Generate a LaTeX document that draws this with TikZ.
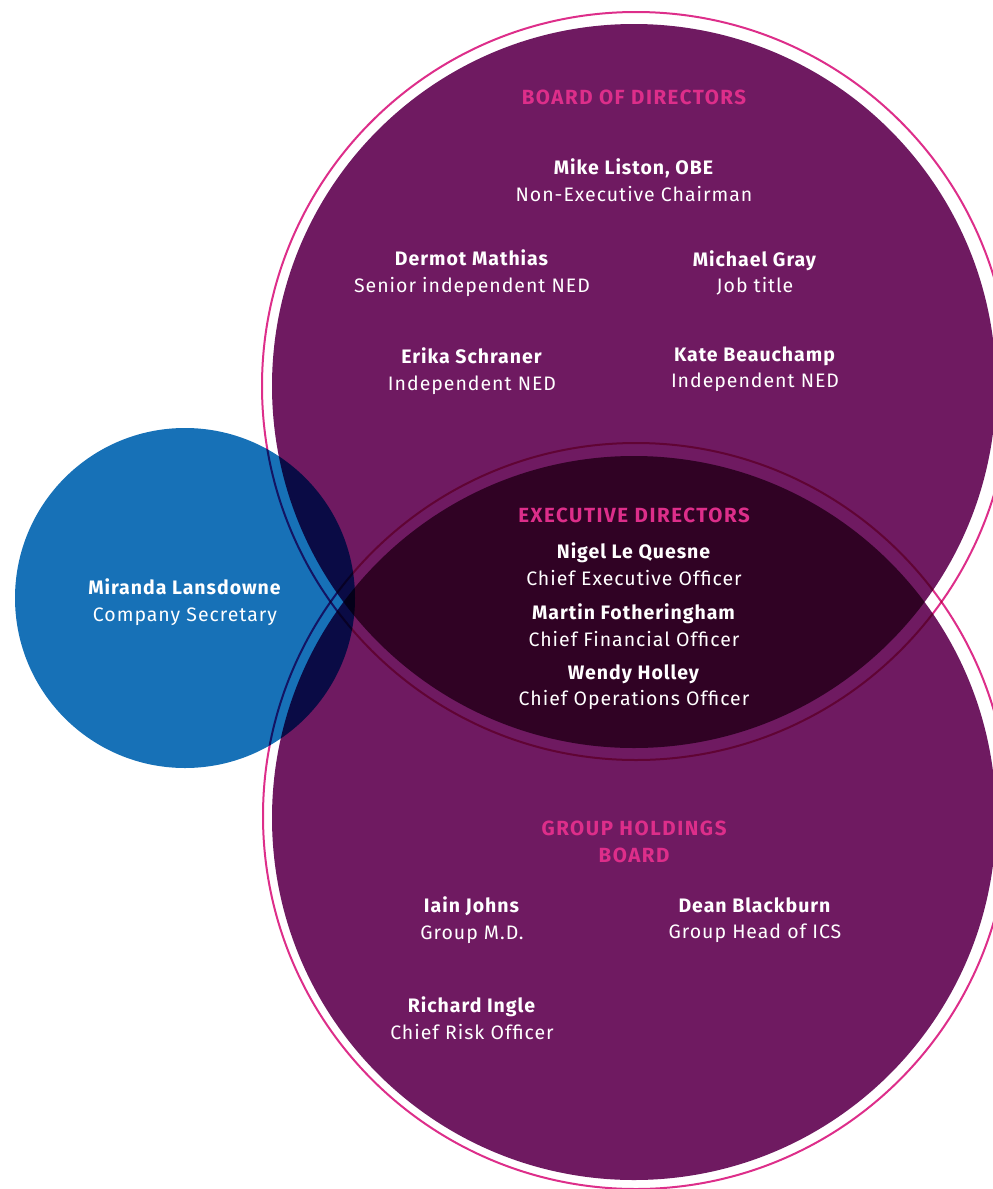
\documentclass[tikz,border=0pt]{standalone}
\usepackage{fontspec}
\setmainfont{Fira Sans}[LetterSpace=5]
\usepackage{xcolor}
\usetikzlibrary{positioning}

\definecolor{boardpurple}{HTML}{6F1A61}
\definecolor{secblue}{HTML}{1771B7}
\definecolor{headpink}{HTML}{DD2E8A}

\begin{document}
\begin{tikzpicture}[
    x=1pt, y=-1pt,
    disc/.style={blend mode=multiply},
    ring/.style={draw=headpink, line width=2pt, blend mode=multiply},
    heading/.style={text=headpink, align=center, font=\fontsize{20.5}{26.5}\selectfont\bfseries\addfontfeatures{LetterSpace=7.5}},
    person/.style={text=white, align=center, font=\fontsize{19.5}{26.5}\selectfont}
]
\useasboundingbox (0,0) rectangle (993,1189);
\clip (0,0) rectangle (993,1189);

% circles
\fill[disc, boardpurple] (634,386) circle[radius=362];
\fill[disc, boardpurple] (634,818) circle[radius=362];
\fill[disc, secblue] (185,598) circle[radius=170];
\draw[ring] (636,386) circle[radius=374];
\draw[ring] (636,816) circle[radius=373];

% 1. Board of directors
\node[heading] (board) at (634,97) {BOARD OF DIRECTORS};
\node[person] (liston) at (634,180) {\textbf{Mike Liston, OBE}\\Non-Executive Chairman};
\node[person] (mathias) at (472,273) {\textbf{Dermot Mathias}\\Senior independent NED};
\node[person] (gray) at (755,273) {\textbf{Michael Gray}\\Job title};
\node[person] (schraner) at (472,371) {\textbf{Erika Schraner}\\Independent NED};
\node[person] (beauchamp) at (755,369) {\textbf{Kate Beauchamp}\\Independent NED};

% 2. Executive directors
\node[heading] (exec) at (634,515) {EXECUTIVE DIRECTORS};
\node[person] (quesne) at (634,564) {\textbf{Nigel Le Quesne}\\Chief Executive Officer};
\node[person] (fotheringham) at (634,625) {\textbf{Martin Fotheringham}\\Chief Financial Officer};
\node[person] (holley) at (634,687) {\textbf{Wendy Holley}\\Chief Operations Officer};

% 3. Company secretary
\node[person] (lansdowne) at (185,602) {\textbf{Miranda Lansdowne}\\Company Secretary};

% 4. Group holdings board
\node[heading] (holdings) at (634,842) {GROUP HOLDINGS\\BOARD};
\node[person] (johns) at (472,920) {\textbf{Iain Johns}\\Group M.D.};
\node[person] (blackburn) at (755,920) {\textbf{Dean Blackburn}\\Group Head of ICS};
\node[person] (ingle) at (472,1018) {\textbf{Richard Ingle}\\Chief Risk Officer};

\end{tikzpicture}
\end{document}
